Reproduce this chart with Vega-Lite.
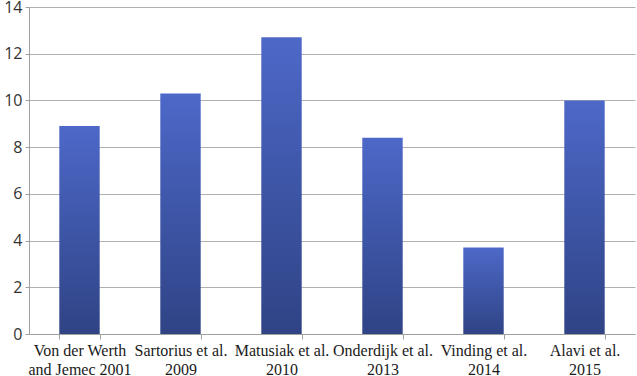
{
  "$schema": "https://vega.github.io/schema/vega-lite/v6.json",
  "width": 606,
  "height": 327,
  "autosize": {"type": "none"},
  "padding": {"left": 29, "top": 7, "right": 2, "bottom": 42},
  "background": "white",
  "data": {"values": [
    {"study": "Von der Werth and Jemec 2001", "value": 8.9},
    {"study": "Sartorius et al. 2009", "value": 10.3},
    {"study": "Matusiak et al. 2010", "value": 12.7},
    {"study": "Onderdijk et al. 2013", "value": 8.4},
    {"study": "Vinding et al. 2014", "value": 3.7},
    {"study": "Alavi et al. 2015", "value": 10.0}
  ]},
  "mark": {
    "type": "bar",
    "color": {
      "gradient": "linear",
      "x1": 0, "y1": 0, "x2": 0, "y2": 1,
      "stops": [
        {"offset": 0, "color": "#4d68c8"},
        {"offset": 1, "color": "#2f4385"}
      ]
    }
  },
  "encoding": {
    "x": {
      "field": "study",
      "type": "nominal",
      "sort": null,
      "scale": {"paddingInner": 0.6, "paddingOuter": 0.3},
      "axis": {
        "title": null,
        "labelAngle": 0,
        "labelFont": "Liberation Serif",
        "labelFontSize": 16,
        "labelColor": "#1a1a1a",
        "labelLineHeight": 19,
        "labelPadding": 3,
        "labelExpr": "indexof(datum.label,' and ')>0 ? [slice(datum.label,0,indexof(datum.label,' and ')), slice(datum.label,indexof(datum.label,' and ')+1)] : [slice(datum.label,0,lastindexof(datum.label,' ')), slice(datum.label,lastindexof(datum.label,' ')+1)]",
        "tickBand": "extent",
        "tickSize": 5,
        "tickColor": "#a0a0a0",
        "domainColor": "#a0a0a0",
        "grid": false
      }
    },
    "y": {
      "field": "value",
      "type": "quantitative",
      "scale": {"domain": [0, 14]},
      "axis": {
        "title": null,
        "values": [0, 2, 4, 6, 8, 10, 12, 14],
        "labelFont": "Open Sans",
        "labelFontSize": 16,
        "labelColor": "#333333",
        "labelPadding": 3,
        "tickSize": 4,
        "tickColor": "#a0a0a0",
        "domainColor": "#a0a0a0",
        "gridColor": "#b0b0b0",
        "gridWidth": 1.2
      }
    }
  },
  "config": {"view": {"stroke": null}, "axis": {"labelFont": "Liberation Serif"}, "axisY": {"labelFont": "Open Sans"}, "axisX": {"labelFont": "Liberation Serif"}}
}
